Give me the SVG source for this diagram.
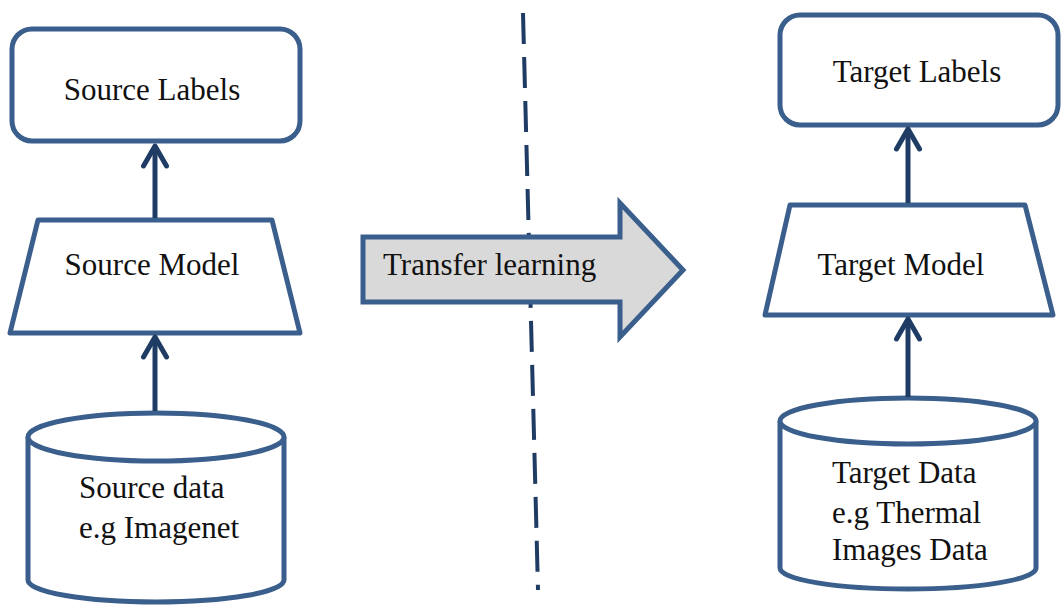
<svg xmlns="http://www.w3.org/2000/svg" width="1061" height="605" viewBox="0 0 1061 605">
  <style>
    .box { fill: #ffffff; stroke: #3b5f8c; stroke-width: 5; stroke-linejoin: round; }
    .lbl { font-family: "Liberation Serif", "Times New Roman", serif; font-size: 31px; fill: #111111; }
    .mid { text-anchor: middle; }
    .conn { stroke: #1f3c64; stroke-width: 5; fill: none; }
    .divider { stroke: #1f3c64; stroke-width: 4; fill: none; stroke-dasharray: 31 13; }
    .transfer { fill: #d9d9d9; stroke: #3b5f8c; stroke-width: 5; stroke-linejoin: miter; }
  </style>
  <defs>
    <marker id="chevron" viewBox="-26 -15 30 30" refX="0" refY="0" markerWidth="30" markerHeight="30" markerUnits="userSpaceOnUse" orient="auto">
      <path d="M-20,-11.5 L0,0 L-20,11.5" fill="none" stroke="#1f3c64" stroke-width="5" stroke-linecap="round" stroke-linejoin="round"/>
    </marker>
  </defs>

  <rect width="1061" height="605" fill="#ffffff"/>

  <!-- dashed divider between source and target domains -->
  <line class="divider" x1="523" y1="13" x2="538" y2="590"/>

  <!-- source side -->
  <g id="source-labels">
    <rect class="box" x="12" y="29" width="288" height="112" rx="20"/>
    <text class="lbl mid" x="152" y="100">Source Labels</text>
  </g>
  <g id="source-model">
    <polygon class="box" points="38,220 272,220 300,333 10,333"/>
    <text class="lbl mid" x="152" y="275">Source Model</text>
  </g>
  <g id="source-data">
    <path class="box" d="M28,437 A128,24 0 0 1 284,437 L284,580 A128,22 0 0 1 28,580 Z"/>
    <path class="box" d="M28,437 A128,24 0 0 0 284,437" fill="none"/>
    <text class="lbl" x="79" y="498">Source data</text>
    <text class="lbl" x="79" y="538">e.g Imagenet</text>
  </g>

  <!-- target side -->
  <g id="target-labels">
    <rect class="box" x="780" y="15" width="278" height="110" rx="20"/>
    <text class="lbl mid" x="917" y="82">Target Labels</text>
  </g>
  <g id="target-model">
    <polygon class="box" points="790,205 1025,205 1053,315 765,315"/>
    <text class="lbl mid" x="901" y="275">Target Model</text>
  </g>
  <g id="target-data">
    <path class="box" d="M780,421 A128,23 0 0 1 1036,421 L1036,568 A128,21 0 0 1 780,568 Z"/>
    <path class="box" d="M780,421 A128,23 0 0 0 1036,421" fill="none"/>
    <text class="lbl" x="832" y="483">Target Data</text>
    <text class="lbl" x="832" y="523">e.g Thermal</text>
    <text class="lbl" x="832" y="560">Images Data</text>
  </g>

  <!-- transfer learning block arrow -->
  <g id="transfer">
    <polygon class="transfer" points="363,237 620,237 620,203 683,270 620,337 620,302 363,302"/>
    <text class="lbl" x="383" y="275">Transfer learning</text>
  </g>

  <!-- connectors -->
  <g id="connectors">
    <line class="conn" x1="155" y1="218" x2="155" y2="146" marker-end="url(#chevron)"/>
    <line class="conn" x1="155" y1="411" x2="155" y2="337" marker-end="url(#chevron)"/>
    <line class="conn" x1="908" y1="203" x2="908" y2="129" marker-end="url(#chevron)"/>
    <line class="conn" x1="908" y1="397" x2="908" y2="319" marker-end="url(#chevron)"/>
  </g>
</svg>
